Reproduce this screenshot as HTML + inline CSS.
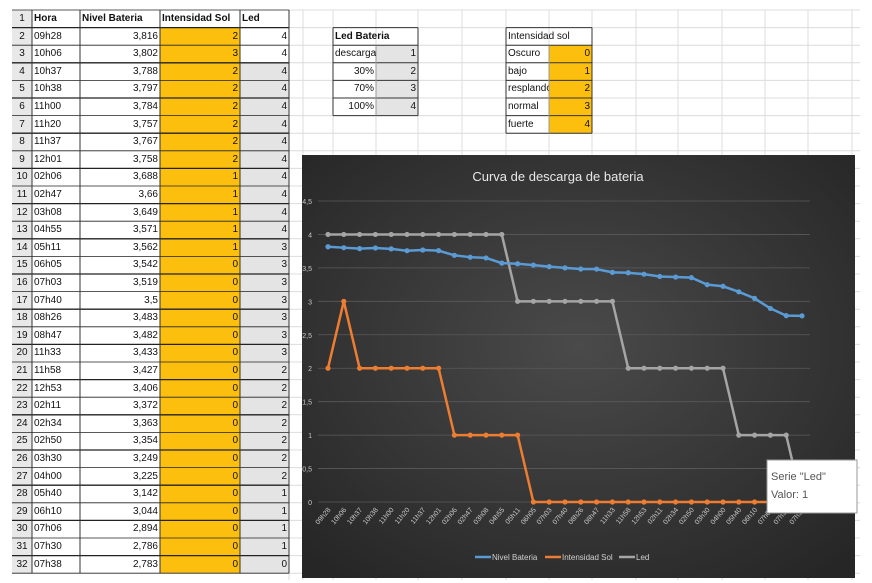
<!DOCTYPE html>
<html><head><meta charset="utf-8">
<style>
body{margin:0;width:872px;height:583px;background:#fff;overflow:hidden;position:relative;font-family:"Liberation Sans",sans-serif;}
.c{position:absolute;box-sizing:border-box;font-size:10px;line-height:17px;white-space:nowrap;overflow:hidden;color:#111;}
svg{position:absolute;left:0;top:0}
</style></head><body>
<svg id="grid" width="872" height="583"></svg>
<div id="cells"></div>
<svg id="chart" width="872" height="583"></svg>
<script>
const hora=["09h28","10h06","10h37","10h38","11h00","11h20","11h37","12h01","02h06","02h47","03h08","04h55","05h11","06h05","07h03","07h40","08h26","08h47","11h33","11h58","12h53","02h11","02h34","02h50","03h30","04h00","05h40","06h10","07h06","07h30","07h38"];
const nivel=[3.816,3.802,3.788,3.797,3.784,3.757,3.767,3.758,3.688,3.66,3.649,3.571,3.562,3.542,3.519,3.5,3.483,3.482,3.433,3.427,3.406,3.372,3.363,3.354,3.249,3.225,3.142,3.044,2.894,2.786,2.783];
const sol=[2,3,2,2,2,2,2,2,1,1,1,1,1,0,0,0,0,0,0,0,0,0,0,0,0,0,0,0,0,0,0];
const led=[4,4,4,4,4,4,4,4,4,4,4,4,3,3,3,3,3,3,3,2,2,2,2,2,2,2,1,1,1,1,0];
const yTicks=[0,0.5,1,1.5,2,2.5,3,3.5,4,4.5];
const NS="http://www.w3.org/2000/svg";
const RH=17.6,T0=10;
const g=document.getElementById('grid');
function ln(p,x1,y1,x2,y2,c,w){const l=document.createElementNS(NS,'line');l.setAttribute('x1',x1);l.setAttribute('y1',y1);l.setAttribute('x2',x2);l.setAttribute('y2',y2);l.setAttribute('stroke',c);l.setAttribute('stroke-width',w);p.appendChild(l);return l;}
function rc(p,x,y,w,h,f){const r=document.createElementNS(NS,'rect');r.setAttribute('x',x);r.setAttribute('y',y);r.setAttribute('width',w);r.setAttribute('height',h);r.setAttribute('fill',f);p.appendChild(r);return r;}
// right grid
const colsR=[289,303,333,376,418,462,506,549,592,636,678,722,765,808,852];
for(let i=0;i<=32;i++){ln(g,289,T0+i*RH,860,T0+i*RH,'#dcdcdc',1);}
colsR.forEach(x=>ln(g,x,T0,x,580,'#dcdcdc',1));
// left table backgrounds
rc(g,12,T0,20,32*RH,'#e8e8e8');
rc(g,160,T0+RH,80,31*RH,'#fcbf0e');
rc(g,240,T0+3*RH,49,29*RH,'#e4e4e4');
for(let i=0;i<=32;i++){ln(g,12,T0+i*RH,289,T0+i*RH,'#222',i%2?1.3:0.8);}
[32,80,160,240,289].forEach(x=>ln(g,x,T0,x,T0+32*RH,'#333',1));
// small tables
rc(g,376,T0+2*RH,42,4*RH,'#e4e4e4');
rc(g,549,T0+2*RH,43,5*RH,'#fcbf0e');
for(let i=1;i<=6;i++)ln(g,333,T0+i*RH,418,T0+i*RH,'#333',1);
[333,418].forEach(x=>ln(g,x,T0+RH,x,T0+6*RH,'#333',1));
ln(g,376,T0+2*RH,376,T0+6*RH,'#999',1);
for(let i=1;i<=7;i++)ln(g,506,T0+i*RH,592,T0+i*RH,'#333',1);
[506,592].forEach(x=>ln(g,x,T0+RH,x,T0+7*RH,'#333',1));
ln(g,549,T0+2*RH,549,T0+7*RH,'#999',1);
const cells=document.getElementById('cells');
function cell(x,y,w,txt,al,name,bold){const d=document.createElement('div');d.className='c';d.style.left=x+'px';d.style.top=y+'px';d.style.width=w+'px';d.style.height=RH+'px';d.style.textAlign=al;d.style.padding='0 2px';if(bold)d.style.fontWeight='bold';d.textContent=txt;


cells.appendChild(d);}
cell(12,T0,20,'1','center','row-number',false);
cell(32,T0,48,'Hora','left','header-hora',true);
cell(80,T0,80,'Nivel Bateria','left','header-nivel-bateria',true);
cell(160,T0,80,'Intensidad Sol','left','header-intensidad-sol',true);
cell(240,T0,49,'Led','left','header-led',true);
for(let i=0;i<hora.length;i++){const y=T0+(i+1)*RH;
cell(12,y,20,String(i+2),'center','row-number',false);
cell(32,y,48,hora[i],'left','hora-cell',false);
cell(80,y,80,String(nivel[i]).replace('.',','),'right','nivel-cell',false);
cell(160,y,80,String(sol[i]),'right','sol-cell',false);
cell(240,y,49,String(led[i]),'right','led-cell',false);}
cell(333,T0+RH,85,'Led  Bateria','left','led-bateria-title',true);
const lb=['descarga','30%','70%','100%'];
lb.forEach((t,i)=>{cell(333,T0+(i+2)*RH,43,t,i?'right':'left','led-level-label',false);cell(376,T0+(i+2)*RH,42,String(i+1),'right','led-level-value',false);});
cell(506,T0+RH,86,'Intensidad sol','left','intensidad-sol-title',false);
const il=['Oscuro','bajo','resplando','normal','fuerte'];
il.forEach((t,i)=>{cell(506,T0+(i+2)*RH,43,t,'left','sun-level-label',false);cell(549,T0+(i+2)*RH,43,String(i),'right','sun-level-value',false);});
// chart
const s=document.getElementById('chart');
const defs=document.createElementNS(NS,'defs');
defs.innerHTML='<radialGradient id="bg" cx="50%" cy="45%" r="70%"><stop offset="0" stop-color="#4a4a4a"/><stop offset="1" stop-color="#262626"/></radialGradient>';
s.appendChild(defs);
const bg=rc(s,302,155,553,423,'url(#bg)');


const X0=328,X1=802,Y0=502,Y45=201;
const xs=i=>X0+(X1-X0)*i/(hora.length-1);
const ys=v=>Y0-(Y0-Y45)*v/4.5;
yTicks.forEach(v=>{ln(s,318,ys(v),810,ys(v),'#5a5a5a',0.8);
const t=document.createElementNS(NS,'text');t.setAttribute('x',312);t.setAttribute('y',ys(v)+3);t.setAttribute('text-anchor','end');t.setAttribute('font-size','7');t.setAttribute('fill','#c8c8c8');t.textContent=String(v).replace('.',',');


s.appendChild(t);});
hora.forEach((h,i)=>{const t=document.createElementNS(NS,'text');const x=xs(i)+3,y=510;t.setAttribute('x',x);t.setAttribute('y',y);t.setAttribute('text-anchor','end');t.setAttribute('font-size','7');t.setAttribute('fill','#c8c8c8');t.setAttribute('transform','rotate(-50 '+x+' '+y+')');t.textContent=h;


s.appendChild(t);});
function series(arr,col,name){const p=document.createElementNS(NS,'polyline');p.setAttribute('points',arr.map((v,i)=>xs(i)+','+ys(v)).join(' '));p.setAttribute('fill','none');p.setAttribute('stroke',col);p.setAttribute('stroke-width','2.5');


s.appendChild(p);
arr.forEach((v,i)=>{const c=document.createElementNS(NS,'circle');c.setAttribute('cx',xs(i));c.setAttribute('cy',ys(v));c.setAttribute('r','2.6');c.setAttribute('fill',col);


s.appendChild(c);});}
series(sol,'#ed7d31','intensidad-sol');
series(led,'#a5a5a5','led');
series(nivel,'#5b9bd5','nivel-bateria');
const title=document.createElementNS(NS,'text');title.setAttribute('x',558);title.setAttribute('y',181);title.setAttribute('text-anchor','middle');title.setAttribute('font-size','13');title.setAttribute('fill','#e8e8e8');title.textContent='Curva de descarga de bateria';


s.appendChild(title);
const leg=[['Nivel Bateria','#5b9bd5',475],['Intensidad Sol','#ed7d31',545],['Led','#a5a5a5',619]];
leg.forEach(([n,c,x])=>{ln(s,x,557,x+16,557,c,2.5);const t=document.createElementNS(NS,'text');t.setAttribute('x',x+17);t.setAttribute('y',560);t.setAttribute('font-size','8');t.setAttribute('fill','#d0d0d0');t.textContent=n;


s.appendChild(t);});
const tip=rc(s,767,460,90,53,'#fff');tip.setAttribute('stroke','#999');


[['Serie "Led"',480],['Valor: 1',498]].forEach(([tx,y])=>{const t=document.createElementNS(NS,'text');t.setAttribute('x',771);t.setAttribute('y',y);t.setAttribute('font-size','11');t.setAttribute('fill','#555');t.textContent=tx;


s.appendChild(t);});
</script>
</body></html>
